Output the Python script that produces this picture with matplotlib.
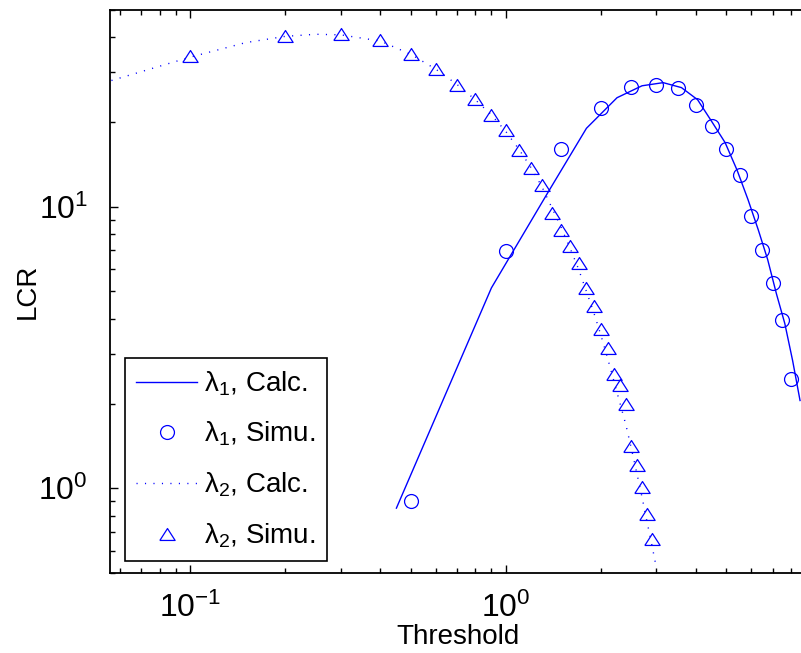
import matplotlib
matplotlib.use("Agg")
import matplotlib.pyplot as plt

# Fonts close to the Helvetica look of the original
plt.rcParams["font.family"] = ["Liberation Sans", "DejaVu Sans"]
plt.rcParams["mathtext.fontset"] = "custom"
plt.rcParams["mathtext.rm"] = "Liberation Sans"
plt.rcParams["mathtext.it"] = "Liberation Sans:italic"
plt.rcParams["mathtext.bf"] = "Liberation Sans:bold"
plt.rcParams["mathtext.default"] = "regular"

# lambda_1, calculated
thr_calc1 = [0.45, 0.9, 1.35, 1.8, 2.25, 2.7, 3.15, 3.6, 4.05, 4.5,
             4.95, 5.4, 5.85, 6.3, 6.75, 7.2, 7.65, 8.1, 8.55]
lcr_calc1 = [0.85, 5.15, 11.1, 19.0, 24.4, 26.9, 27.6, 26.5, 24.0, 20.0,
             16.9, 13.5, 10.6, 8.3, 6.5, 4.9, 3.85, 2.84, 2.05]

# lambda_1, simulated
thr_sim1 = [0.5, 1.0, 1.5, 2.0, 2.5, 3.0, 3.5, 4.0, 4.5, 5.0, 5.5, 6.0,
            6.5, 7.0, 7.5, 8.0]
lcr_sim1 = [0.90, 6.97, 16.0, 22.4, 26.7, 27.0, 26.4, 22.9, 19.4, 16.0,
            12.97, 9.27, 7.01, 5.37, 3.96, 2.45]

# lambda_2, calculated
thr_calc2 = [0.05, 0.1, 0.15, 0.2, 0.25, 0.3, 0.4, 0.5, 0.6, 0.7, 0.8, 0.9,
             1.0, 1.1, 1.2, 1.3, 1.4, 1.5, 1.6, 1.7, 1.8, 1.9, 2.0, 2.1,
             2.2, 2.3, 2.4, 2.5, 2.6, 2.7, 2.8, 2.9, 3.0]
lcr_calc2 = [27.0, 34.0, 38.3, 40.3, 41.0, 40.8, 38.8, 34.8, 30.8, 27.2,
             24.0, 21.2, 18.5, 16.0, 13.8, 11.8, 9.9, 8.4, 7.1, 6.0, 5.0,
             4.2, 3.5, 2.9, 2.4, 2.0, 1.68, 1.38, 1.13, 0.93, 0.76, 0.63,
             0.52]

# lambda_2, simulated
thr_sim2 = [0.1, 0.2, 0.3, 0.4, 0.5, 0.6, 0.7, 0.8, 0.9, 1.0, 1.1, 1.2,
            1.3, 1.4, 1.5, 1.6, 1.7, 1.8, 1.9, 2.0, 2.1, 2.2, 2.3, 2.4,
            2.5, 2.6, 2.7, 2.8, 2.9]
lcr_sim2 = [34.4, 40.5, 41.0, 39.2, 34.9, 30.8, 27.1, 24.1, 21.2, 18.7,
            15.9, 13.7, 11.9, 9.5, 8.3, 7.27, 6.29, 5.16, 4.45, 3.69, 3.16,
            2.54, 2.32, 1.99, 1.41, 1.21, 1.01, 0.81, 0.66]

blue = (0, 0, 1)
tri = [(-1, -0.78), (1, -0.78), (0, 0.78), (-1, -0.78)]

fig = plt.figure(figsize=(8.01, 6.53), dpi=100)
# right edge of the axes lies just outside the picture, as in the original
ax = fig.add_axes([110 / 801, 80 / 653, 696 / 801, 563 / 653])

ax.plot(thr_calc1, lcr_calc1, "-", color=blue, lw=1.0,
        label=r"$\lambda_1$, Calc.")
ax.plot(thr_sim1, lcr_sim1, "o", color=blue, ms=10, mfc="none", mew=0.9,
        ls="none", label=r"$\lambda_1$, Simu.")
ax.plot(thr_calc2, lcr_calc2, color=blue, lw=1.0, ls=(0, (0.8, 5.3)),
        label=r"$\lambda_2$, Calc.")
ax.plot(thr_sim2, lcr_sim2, marker=tri, color=blue, ms=11, mfc="none",
        mew=0.9, ls="none", label=r"$\lambda_2$, Simu.")

ax.set_xscale("log")
ax.set_yscale("log")
ax.set_xlim(0.0557, 8.93)
ax.set_ylim(0.5, 50)

ax.tick_params(which="both", direction="in", top=True, right=False,
               labelsize=23, width=1.0)
ax.tick_params(which="major", length=6, pad=14)
ax.tick_params(which="minor", length=3.5)
ax.tick_params(axis="y", which="major", pad=16)
for s in ax.spines.values():
    s.set_linewidth(1.3)

ax.set_xlabel("Threshold", fontsize=20, labelpad=0)
ax.set_ylabel("LCR", fontsize=20, labelpad=-2)

leg = ax.legend(loc="lower left", bbox_to_anchor=(15 / 696, 12 / 563),
                borderaxespad=0, fontsize=20, fancybox=False,
                edgecolor="k", framealpha=1, handlelength=2.2,
                handletextpad=0.25, labelspacing=0.8, borderpad=0.4)
leg.get_frame().set_linewidth(1.2)

fig.savefig("out.png", dpi=100)
